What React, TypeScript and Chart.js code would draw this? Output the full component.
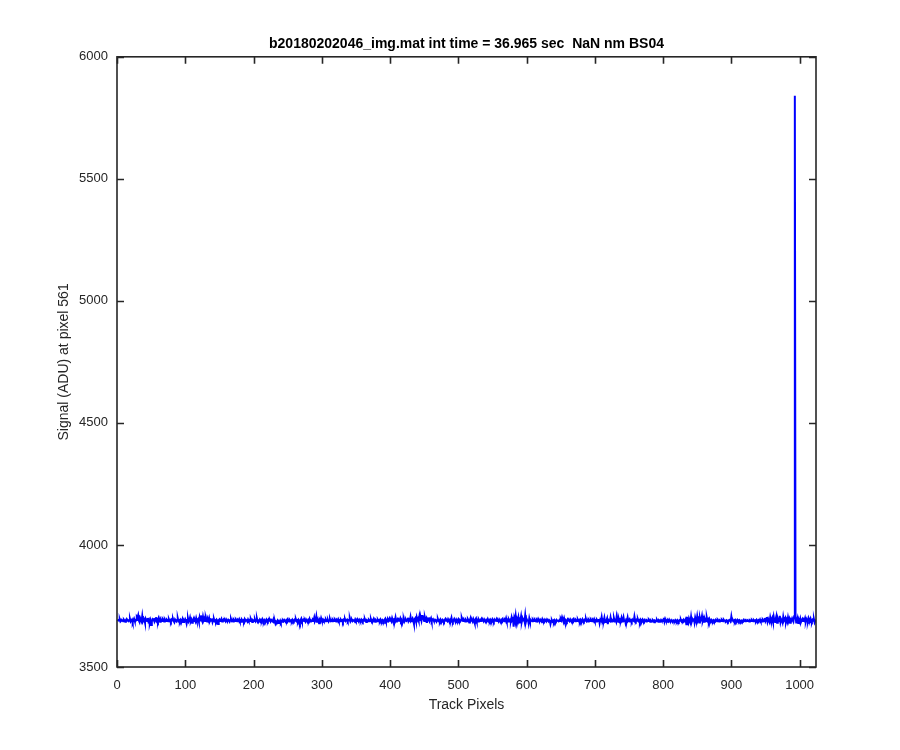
import React, { useEffect, useRef } from "react";
import { Chart, registerables } from "chart.js";

Chart.register(...registerables);

const TITLE = "b20180202046_img.mat int time = 36.965 sec  NaN nm BS04";
const X_LABEL = "Track Pixels";
const Y_LABEL = "Signal (ADU) at pixel 561";
const X_TICKS = [0, 100, 200, 300, 400, 500, 600, 700, 800, 900, 1000];
const Y_TICKS = [3500, 4000, 4500, 5000, 5500, 6000];
const X_RANGE = [0, 1024];
const Y_RANGE = [3500, 6000];

// Signal per track pixel (pixel 1 .. 1024)
const SIGNAL: number[] = [
  3688,3692,3690,3695,3686,3689,3693,3691,3687,3694,3690,3685,3692,3696,3689,3691,3688,3693,3697,3686,3690,3694,3683,3691,3698,3689,3687,3693,3706,3702,3712,3690,
  3684,3700,3693,3688,3709,3686,3691,3695,3682,3697,3690,3688,3701,3687,3693,3679,3690,3672,3688,3695,3691,3700,3686,3692,3704,3689,3694,3687,3699,3690,3685,3696,
  3691,3688,3697,3693,3686,3695,3690,3688,3694,3691,3687,3696,3689,3692,3686,3694,3690,3697,3688,3683,3695,3691,3687,3693,3700,3688,3691,3686,3694,3690,3689,3697,
  3684,3692,3688,3696,3690,3678,3693,3699,3686,3691,3702,3687,3694,3681,3690,3697,3688,3693,3686,3700,3689,3692,3696,3685,3703,3690,3711,3694,3687,3706,3692,3699,
  3688,3703,3692,3686,3697,3690,3701,3687,3693,3689,3699,3684,3692,3697,3688,3691,3686,3694,3690,3676,3692,3695,3688,3691,3697,3686,3690,3694,3689,3692,3687,3695,
  3690,3688,3694,3691,3686,3693,3697,3689,3692,3686,3694,3690,3688,3695,3691,3687,3693,3690,3696,3688,3691,3685,3694,3690,3692,3687,3696,3689,3693,3691,3686,3695,
  3689,3692,3688,3697,3690,3684,3693,3691,3688,3695,3687,3692,3698,3686,3691,3689,3694,3687,3692,3688,3696,3690,3685,3693,3690,3688,3695,3691,3687,3694,3689,3692,
  3686,3693,3690,3688,3695,3682,3690,3679,3686,3683,3689,3680,3687,3684,3690,3682,3688,3685,3691,3687,3693,3689,3686,3692,3688,3695,3690,3686,3693,3689,3691,3687,
  3694,3690,3687,3693,3689,3696,3688,3691,3686,3694,3690,3681,3692,3698,3687,3691,3694,3688,3692,3686,3695,3690,3688,3693,3689,3697,3686,3692,3690,3688,3694,3691,
  3703,3687,3692,3708,3685,3696,3690,3679,3693,3688,3700,3691,3686,3694,3689,3692,3687,3695,3690,3688,3693,3686,3691,3697,3689,3692,3687,3694,3690,3688,3695,3691,
  3686,3693,3690,3696,3688,3691,3687,3694,3690,3692,3685,3693,3689,3696,3688,3691,3694,3687,3692,3690,3698,3686,3691,3694,3688,3692,3690,3687,3695,3689,3693,3688,
  3691,3686,3694,3690,3688,3695,3692,3687,3693,3689,3696,3688,3684,3692,3690,3687,3694,3691,3688,3695,3686,3692,3690,3697,3688,3685,3693,3690,3687,3694,3689,3692,
  3688,3695,3690,3686,3693,3691,3687,3694,3698,3688,3692,3686,3695,3690,3697,3689,3693,3687,3700,3691,3688,3694,3690,3703,3686,3692,3696,3689,3694,3691,3699,3688,
  3693,3680,3690,3697,3686,3692,3695,3689,3691,3702,3688,3694,3690,3705,3687,3693,3699,3690,3677,3696,3700,3688,3704,3692,3698,3689,3707,3693,3702,3690,3709,3711,
  3697,3688,3704,3693,3699,3681,3695,3690,3703,3688,3694,3700,3687,3692,3696,3690,3688,3694,3691,3686,3693,3697,3689,3692,3687,3695,3690,3688,3694,3691,3686,3693,
  3697,3689,3692,3688,3696,3690,3687,3694,3691,3702,3688,3684,3692,3697,3690,3686,3694,3688,3691,3696,3689,3693,3687,3692,3700,3690,3688,3695,3691,3686,3694,3690,
  3687,3696,3691,3682,3693,3701,3689,3692,3686,3697,3690,3680,3694,3699,3688,3692,3686,3695,3690,3688,3694,3698,3689,3692,3687,3695,3690,3686,3693,3691,3697,3688,
  3692,3687,3694,3690,3688,3696,3691,3686,3694,3689,3692,3697,3688,3691,3686,3695,3690,3684,3693,3689,3696,3691,3687,3694,3690,3700,3688,3692,3686,3695,3689,3693,
  3690,3703,3687,3706,3665,3700,3689,3710,3684,3698,3691,3704,3682,3696,3692,3708,3686,3699,3690,3702,3688,3712,3685,3697,3691,3694,3679,3700,3688,3693,3690,3687,
  3695,3691,3688,3694,3690,3686,3693,3689,3697,3691,3687,3694,3690,3688,3696,3689,3692,3686,3694,3690,3688,3695,3691,3687,3693,3690,3676,3688,3692,3686,3690,3684,
  3692,3688,3686,3693,3690,3689,3687,3692,3688,3698,3692,3704,3695,3690,3700,3688,3693,3690,3686,3694,3689,3692,3688,3695,3690,3686,3693,3689,3696,3690,3687,3694,
  3691,3688,3695,3689,3692,3686,3694,3690,3688,3696,3691,3687,3693,3689,3697,3688,3692,3686,3694,3690,3688,3695,3691,3687,3693,3689,3696,3688,3691,3686,3694,3690,
  3688,3697,3680,3694,3690,3705,3686,3693,3689,3702,3684,3692,3691,3699,3676,3693,3690,3688,3703,3686,3694,3690,3687,3700,3689,3692,3686,3707,3690,3685,3698,3688,
  3694,3690,3701,3686,3692,3704,3688,3695,3681,3693,3690,3703,3687,3692,3696,3688,3691,3686,3694,3690,3688,3707,3691,3687,3693,3689,3696,3688,3691,3684,3694,3690,
  3688,3695,3691,3687,3693,3689,3686,3692,3690,3688,3694,3690,3685,3691,3688,3686,3692,3689,3683,3691,3690,3687,3693,3688,3685,3692,3690,3687,3693,3689,3691,3688,
  3702,3686,3697,3690,3688,3685,3691,3687,3694,3689,3686,3692,3688,3684,3691,3689,3687,3693,3690,3686,3692,3688,3685,3691,3689,3694,3687,3691,3688,3693,3686,3690,
  3696,3675,3705,3687,3680,3698,3690,3684,3706,3686,3695,3689,3700,3683,3703,3692,3687,3708,3690,3696,3682,3701,3689,3694,3709,3688,3697,3685,3699,3692,3688,3703,
  3690,3695,3686,3697,3691,3688,3693,3689,3686,3692,3690,3688,3694,3691,3687,3693,3689,3686,3692,3690,3688,3694,3691,3687,3693,3689,3690,3688,3692,3690,3686,3691,
  3693,3689,3687,3707,3690,3694,3688,3691,3686,3693,3690,3688,3694,3691,3687,3692,3689,3686,3691,3690,3688,3693,3689,3687,3692,3690,3688,3691,3689,3686,3692,3690,
  3688,3693,3690,3687,3692,3689,3691,3688,3694,3690,3687,3692,3689,3695,3688,3691,3686,3694,3690,3688,3701,3687,3693,3705,3686,3697,3690,3684,3704,3692,3688,3699,
  3686,3706,3690,3684,3697,3709,3681,3700,3692,3687,3710,3684,3696,3691,3682,3705,3688,3693,3700,3683,3694,3686,3703,3689,3697,3681,3694,3690,3699,3692,3688,3708,
  5840,3710,3682,3689,3700,3680,3693,3686,3698,3684,3691,3696,3688,3694,3690,3700,3686,3697,3692,3688,3701,3694,3690,3698,3687,3684,3693,3689,3695,3682,3688,3694,
];

const AXIS_COLOR = "#262626";
const FONT_FAMILY = "'Liberation Sans', Arial, Helvetica, sans-serif";

const boxPlugin = {
  id: "matlabBox",
  afterDatasetsDraw(chart: any) {
    const { ctx, chartArea } = chart;
    const { left, right, top, bottom } = chartArea;
    const xs = chart.scales.x;
    const ys = chart.scales.y;
    const tl = 7;
    ctx.save();
    ctx.strokeStyle = AXIS_COLOR;
    ctx.lineWidth = 1.6;
    ctx.beginPath();
    for (const v of X_TICKS) {
      const px = Math.round(xs.getPixelForValue(v)) + 0.5;
      ctx.moveTo(px, bottom);
      ctx.lineTo(px, bottom - tl);
      ctx.moveTo(px, top);
      ctx.lineTo(px, top + tl);
    }
    for (const v of Y_TICKS) {
      const py = Math.round(ys.getPixelForValue(v)) + 0.5;
      ctx.moveTo(left, py);
      ctx.lineTo(left + tl, py);
      ctx.moveTo(right, py);
      ctx.lineTo(right - tl, py);
    }
    ctx.stroke();
    ctx.strokeRect(left, top, right - left, bottom - top);
    ctx.restore();
  },
};

export default function App() {
  const ref = useRef<HTMLCanvasElement | null>(null);
  useEffect(() => {
    if (!ref.current) return;
    const points = SIGNAL.map((v, i) => ({ x: i + 1, y: v }));
    const chart = new Chart(ref.current, {
      type: "line",
      data: {
        datasets: [
          {
            data: points,
            borderColor: "#0000ff",
            borderWidth: 2,
            pointRadius: 0,
            tension: 0,
            fill: false,
          },
        ],
      },
      options: {
        animation: false,
        responsive: false,
        devicePixelRatio: 1,
        layout: { padding: { left: 0, right: 84, top: 0, bottom: 0 } },
        plugins: {
          legend: { display: false },
          tooltip: { enabled: false },
          title: {
            display: true,
            text: TITLE,
            fullSize: false,
            color: "#000000",
            font: { family: FONT_FAMILY, size: 14, weight: "bold" },
            padding: { top: 36, bottom: 4 },
          },
        },
        scales: {
          x: {
            type: "linear",
            min: X_RANGE[0],
            max: X_RANGE[1],
            afterFit: (s: any) => {
              s.height = 83;
            },
            afterBuildTicks: (s: any) => {
              s.ticks = X_TICKS.map((v) => ({ value: v }));
            },
            grid: { display: false, drawTicks: false },
            border: { display: false },
            ticks: {
              color: AXIS_COLOR,
              font: { family: FONT_FAMILY, size: 13 },
              padding: 11,
              maxRotation: 0,
              autoSkip: false,
              callback: (v: any) => String(v),
            },
            title: {
              display: true,
              text: X_LABEL,
              color: AXIS_COLOR,
              font: { family: FONT_FAMILY, size: 14 },
              padding: { top: 0, bottom: 36 },
            },
          },
          y: {
            type: "linear",
            min: Y_RANGE[0],
            max: Y_RANGE[1],
            afterFit: (s: any) => {
              s.width = 117;
            },
            afterBuildTicks: (s: any) => {
              s.ticks = Y_TICKS.map((v) => ({ value: v }));
            },
            grid: { display: false, drawTicks: false },
            border: { display: false },
            ticks: {
              color: AXIS_COLOR,
              font: { family: FONT_FAMILY, size: 13 },
              padding: 9,
              autoSkip: false,
              callback: (v: any) => String(v),
            },
            title: {
              display: true,
              text: Y_LABEL,
              color: AXIS_COLOR,
              font: { family: FONT_FAMILY, size: 14 },
              padding: { top: 56, bottom: 0 },
            },
          },
        },
      },
      plugins: [boxPlugin],
    });
    return () => chart.destroy();
  }, []);
  return (
    <div style={{ position: "fixed", left: 0, top: 0, width: 900, height: 750, background: "#ffffff" }}>
      <canvas ref={ref} width={900} height={750} style={{ width: 900, height: 750, display: "block" }} />
    </div>
  );
}
